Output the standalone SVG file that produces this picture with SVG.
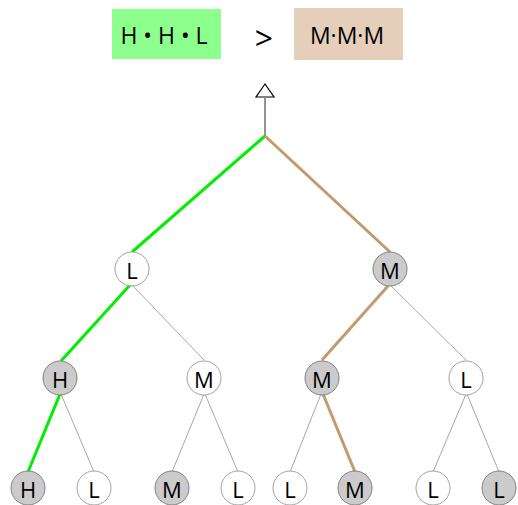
<svg xmlns="http://www.w3.org/2000/svg" width="518" height="505" viewBox="0 0 518 505">
<style>
text{font-family:"Open Sans","Noto Sans","DejaVu Sans",sans-serif;fill:#000;text-anchor:middle;dominant-baseline:central}
.n text{font-size:22px}
.w{fill:#fff;stroke:#a0a0a0;stroke-width:1}
.g{fill:#cbcbcb;stroke:#808080;stroke-width:1}
.e{stroke:#a8a8a8;stroke-width:1;fill:none}
.gr{stroke:#00ee00;stroke-width:3;fill:none}
.tn{stroke:#c49a6c;stroke-width:3;fill:none}
</style>
<rect width="518" height="505" fill="#fff"/>
<g id="left-box"><rect x="112" y="9" width="109" height="50" fill="#8cff8c"/><text x="164" y="35" font-size="23">H • H • L</text></g>
<g id="gt"><text x="264" y="37" font-size="32">&gt;</text></g>
<g id="right-box"><rect x="294" y="8" width="109" height="52" fill="#e6cfba"/><text x="347" y="35" font-size="23">M·M·M</text></g>
<g id="connectors">
<line x1="265" y1="98" x2="265" y2="136" stroke="#707070" stroke-width="1.5"/>
<polygon points="265,84 256,97 274,97" fill="#fff" stroke="#000" stroke-width="1.2"/>
<line class="gr" x1="265" y1="136" x2="132" y2="252"/>
<line class="tn" x1="265" y1="136" x2="390" y2="252"/>
<line class="gr" x1="130" y1="285" x2="61" y2="361"/>
<line class="e" x1="133" y1="286" x2="204" y2="360"/>
<line class="tn" x1="388" y1="286" x2="322" y2="360"/>
<line class="e" x1="391" y1="286" x2="466" y2="360"/>
<line class="gr" x1="60" y1="394" x2="28" y2="472"/>
<line class="e" x1="61" y1="394" x2="94" y2="472"/>
<line class="e" x1="204" y1="394" x2="172" y2="472"/>
<line class="e" x1="205" y1="394" x2="238" y2="472"/>
<line class="e" x1="321" y1="394" x2="290" y2="472"/>
<line class="tn" x1="323" y1="394" x2="355" y2="472"/>
<line class="e" x1="466" y1="394" x2="433" y2="472"/>
<line class="e" x1="467" y1="394" x2="499" y2="472"/>
</g>
<g id="n1" class="n"><circle class="w" cx="132" cy="269" r="17"/><text x="132" y="270">L</text></g>
<g id="n2" class="n"><circle class="g" cx="390" cy="269" r="17"/><text x="390" y="270">M</text></g>
<g id="n3" class="n"><circle class="g" cx="60" cy="378" r="17"/><text x="60" y="379">H</text></g>
<g id="n4" class="n"><circle class="w" cx="204" cy="378" r="17"/><text x="204" y="379">M</text></g>
<g id="n5" class="n"><circle class="g" cx="322" cy="378" r="17"/><text x="322" y="379">M</text></g>
<g id="n6" class="n"><circle class="w" cx="466" cy="378" r="17"/><text x="466" y="379">L</text></g>
<g id="n7" class="n"><circle class="g" cx="28" cy="488" r="17"/><text x="28" y="489">H</text></g>
<g id="n8" class="n"><circle class="w" cx="94" cy="488" r="17"/><text x="94" y="489">L</text></g>
<g id="n9" class="n"><circle class="g" cx="172" cy="488" r="17"/><text x="172" y="489">M</text></g>
<g id="n10" class="n"><circle class="w" cx="238" cy="488" r="17"/><text x="238" y="489">L</text></g>
<g id="n11" class="n"><circle class="w" cx="290" cy="488" r="17"/><text x="290" y="489">L</text></g>
<g id="n12" class="n"><circle class="g" cx="355" cy="488" r="17"/><text x="355" y="489">M</text></g>
<g id="n13" class="n"><circle class="w" cx="433" cy="488" r="17"/><text x="433" y="489">L</text></g>
<g id="n14" class="n"><circle class="g" cx="499" cy="488" r="17"/><text x="499" y="489">L</text></g>
</svg>
